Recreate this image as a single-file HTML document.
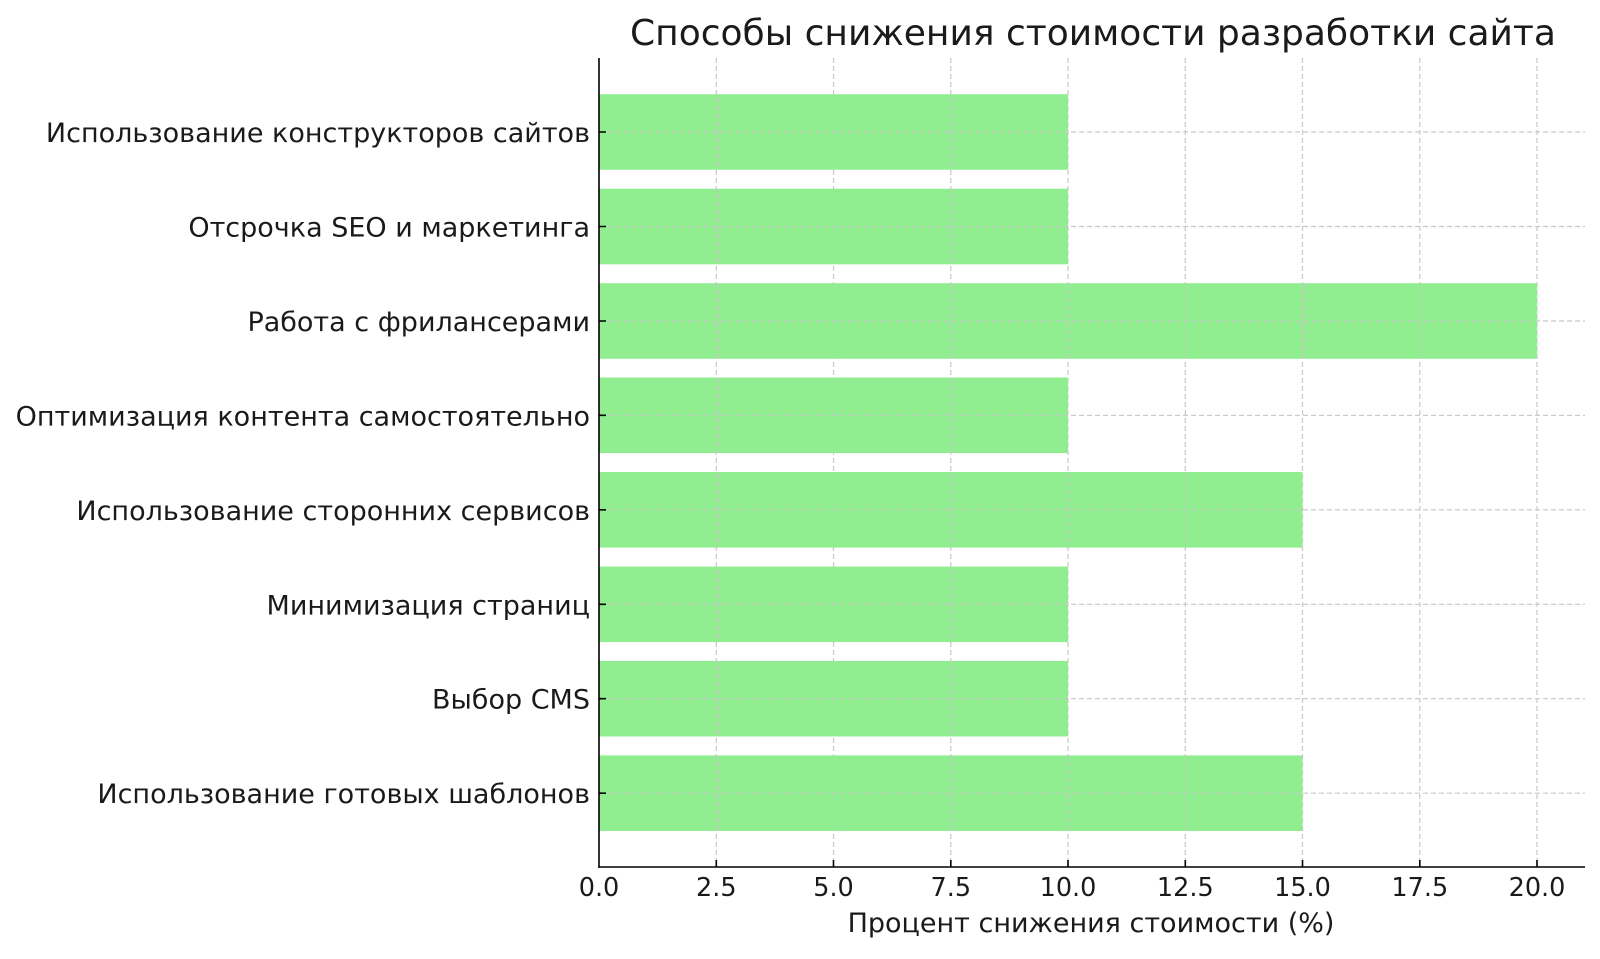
<!DOCTYPE html>
<html><head><meta charset="utf-8"><style>body{margin:0;background:#fff}</style></head><body>
<svg width="1600" height="954" xmlns="http://www.w3.org/2000/svg" font-family="DejaVu Sans, Liberation Sans, sans-serif">
<rect width="1600" height="954" fill="#fff"/>
<g fill="#90EE90">
<rect x="599" y="94.2" width="469" height="75.6"/>
<rect x="599" y="188.7" width="469" height="75.6"/>
<rect x="599" y="283.2" width="938" height="75.6"/>
<rect x="599" y="377.5" width="469" height="75.6"/>
<rect x="599" y="472" width="703.5" height="75.6"/>
<rect x="599" y="566.5" width="469" height="75.6"/>
<rect x="599" y="660.9" width="469" height="75.6"/>
<rect x="599" y="755.4" width="703.5" height="75.6"/>
</g>
<g stroke="#c8c8c8" stroke-width="1.2" stroke-dasharray="5,3">
<line x1="716.3" y1="58" x2="716.3" y2="867"/><line x1="833.5" y1="58" x2="833.5" y2="867"/><line x1="950.8" y1="58" x2="950.8" y2="867"/><line x1="1068" y1="58" x2="1068" y2="867"/><line x1="1185.3" y1="58" x2="1185.3" y2="867"/><line x1="1302.5" y1="58" x2="1302.5" y2="867"/><line x1="1419.8" y1="58" x2="1419.8" y2="867"/><line x1="1537" y1="58" x2="1537" y2="867"/>
<line x1="599" y1="132" x2="1585" y2="132"/><line x1="599" y1="226.5" x2="1585" y2="226.5"/><line x1="599" y1="321" x2="1585" y2="321"/><line x1="599" y1="415.3" x2="1585" y2="415.3"/><line x1="599" y1="509.8" x2="1585" y2="509.8"/><line x1="599" y1="604.3" x2="1585" y2="604.3"/><line x1="599" y1="698.7" x2="1585" y2="698.7"/><line x1="599" y1="793.2" x2="1585" y2="793.2"/>
</g>
<g stroke="#000" stroke-width="1.6">
<line x1="599" y1="58" x2="599" y2="867.8"/><line x1="598.2" y1="867" x2="1585" y2="867"/>
<path d="M599 132h7M599 226.5h7M599 321h7M599 415.3h7M599 509.8h7M599 604.3h7M599 698.7h7M599 793.2h7"/>
<path d="M716.3 867v-7M833.5 867v-7M950.8 867v-7M1068 867v-7M1185.3 867v-7M1302.5 867v-7M1419.8 867v-7M1537 867v-7"/>
</g>
<g font-size="27" fill="#1a1a1a" text-anchor="end">
<text x="590" y="142">Использование конструкторов сайтов</text>
<text x="590" y="236.5">Отсрочка SEO и маркетинга</text>
<text x="590" y="331">Работа с фрилансерами</text>
<text x="590" y="425.3">Оптимизация контента самостоятельно</text>
<text x="590" y="519.8">Использование сторонних сервисов</text>
<text x="590" y="614.3">Минимизация страниц</text>
<text x="590" y="708.7">Выбор CMS</text>
<text x="590" y="803.2">Использование готовых шаблонов</text>
</g>
<g font-size="25.5" fill="#1a1a1a" text-anchor="middle">
<text x="599" y="896">0.0</text><text x="716.3" y="896">2.5</text><text x="833.5" y="896">5.0</text><text x="950.8" y="896">7.5</text><text x="1068" y="896">10.0</text><text x="1185.3" y="896">12.5</text><text x="1302.5" y="896">15.0</text><text x="1419.8" y="896">17.5</text><text x="1537" y="896">20.0</text>
<text x="1091" y="932" font-size="27">Процент снижения стоимости (%)</text>
<text x="1093" y="45" font-size="36">Способы снижения стоимости разработки сайта</text>
</g>
</svg>
</body></html>
